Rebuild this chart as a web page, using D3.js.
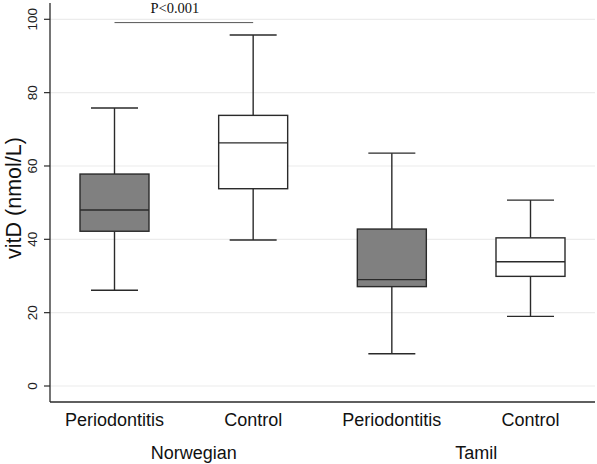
<!DOCTYPE html>
<html><head><meta charset="utf-8">
<script src="https://cdn.jsdelivr.net/npm/d3@7"></script>
<style>body{margin:0;background:#fff}svg{display:block}</style>
</head><body>
<script>
const categories = ["Periodontitis", "Control", "Periodontitis", "Control"];
const groups = ["Norwegian", "Norwegian", "Tamil", "Tamil"];
const groupLabels = ["Norwegian", "Tamil"];
const lowWhisker = [26.1, 39.8, 8.8, 19.0];
const q1 = [42.2, 53.8, 27.1, 29.9];
const median = [48.0, 66.3, 29.0, 33.9];
const q3 = [57.8, 73.8, 42.8, 40.4];
const highWhisker = [75.8, 95.7, 63.5, 50.7];
const fills = ["#808080", "#ffffff", "#808080", "#ffffff"];
const yTicks = [0, 20, 40, 60, 80, 100];
const pText = "P<0.001";
const pValueLevel = 99.1;
const pFrom = 0, pTo = 1;

(function () {
const W = 597, H = 464;
const svg = d3.select("body").append("svg").attr("width", W).attr("height", H);
const y = d3.scaleLinear().domain([0, 100]).range([386, 19.3]);
const x = d3.scalePoint().domain(d3.range(categories.length)).range([114.5, 530.5]);
const pl = 50, pr = 595, pt = 3, pb = 402;
const boxW = 69, capW = 47;
const ink = "#2a2a2a";

svg.append("g").selectAll("line").data(yTicks).join("line")
  .attr("x1", pl).attr("x2", pr).attr("y1", d => y(d)).attr("y2", d => y(d))
  .attr("stroke", "#ececec").attr("stroke-width", 1.2);

svg.append("line").attr("x1", pl).attr("x2", pl).attr("y1", pt).attr("y2", pb)
  .attr("stroke", ink).attr("stroke-width", 1.3);
svg.append("line").attr("x1", pl).attr("x2", pr).attr("y1", pb).attr("y2", pb)
  .attr("stroke", ink).attr("stroke-width", 1.3);

const yt = svg.append("g");
yt.selectAll("line").data(yTicks).join("line")
  .attr("x1", pl - 6).attr("x2", pl).attr("y1", d => y(d)).attr("y2", d => y(d))
  .attr("stroke", ink).attr("stroke-width", 1.2);
yt.selectAll("text").data(yTicks).join("text")
  .attr("transform", d => `translate(37,${y(d)}) rotate(-90)`)
  .attr("text-anchor", "middle")
  .attr("font-family", "Liberation Sans, Arial, sans-serif").attr("font-size", 13.5)
  .attr("fill", "#222").text(d => d);

svg.append("text").attr("transform", `translate(21,198) rotate(-90)`)
  .attr("text-anchor", "middle")
  .attr("font-family", "Liberation Sans, Arial, sans-serif").attr("font-size", 21.5)
  .attr("fill", "#111").text("vitD (nmol/L)");

const idx = d3.range(categories.length);
const g = svg.append("g");
g.selectAll("line.wl").data(idx).join("line").attr("class", "wl")
  .attr("x1", i => x(i)).attr("x2", i => x(i))
  .attr("y1", i => y(lowWhisker[i])).attr("y2", i => y(q1[i]))
  .attr("stroke", ink).attr("stroke-width", 1.4);
g.selectAll("line.wh").data(idx).join("line").attr("class", "wh")
  .attr("x1", i => x(i)).attr("x2", i => x(i))
  .attr("y1", i => y(highWhisker[i])).attr("y2", i => y(q3[i]))
  .attr("stroke", ink).attr("stroke-width", 1.4);
g.selectAll("line.cl").data(idx).join("line").attr("class", "cl")
  .attr("x1", i => x(i) - capW / 2).attr("x2", i => x(i) + capW / 2)
  .attr("y1", i => y(lowWhisker[i])).attr("y2", i => y(lowWhisker[i]))
  .attr("stroke", ink).attr("stroke-width", 1.4);
g.selectAll("line.ch").data(idx).join("line").attr("class", "ch")
  .attr("x1", i => x(i) - capW / 2).attr("x2", i => x(i) + capW / 2)
  .attr("y1", i => y(highWhisker[i])).attr("y2", i => y(highWhisker[i]))
  .attr("stroke", ink).attr("stroke-width", 1.4);
g.selectAll("rect").data(idx).join("rect")
  .attr("x", i => x(i) - boxW / 2).attr("width", boxW)
  .attr("y", i => y(q3[i])).attr("height", i => y(q1[i]) - y(q3[i]))
  .attr("fill", i => fills[i]).attr("stroke", ink).attr("stroke-width", 1.4);
g.selectAll("line.md").data(idx).join("line").attr("class", "md")
  .attr("x1", i => x(i) - boxW / 2).attr("x2", i => x(i) + boxW / 2)
  .attr("y1", i => y(median[i])).attr("y2", i => y(median[i]))
  .attr("stroke", ink).attr("stroke-width", 1.4);

svg.append("line").attr("x1", x(pFrom)).attr("x2", x(pTo))
  .attr("y1", y(pValueLevel)).attr("y2", y(pValueLevel))
  .attr("stroke", "#555").attr("stroke-width", 1);
svg.append("text").attr("x", (x(pFrom) + x(pTo)) / 2 - 9).attr("y", 13)
  .attr("text-anchor", "middle")
  .attr("font-family", "Liberation Serif, Times New Roman, serif").attr("font-size", 14.5)
  .attr("fill", "#111").text(pText);

svg.append("g").selectAll("text").data(idx).join("text")
  .attr("x", i => x(i)).attr("y", 426).attr("text-anchor", "middle")
  .attr("font-family", "Liberation Sans, Arial, sans-serif").attr("font-size", 18)
  .attr("fill", "#111").text(i => categories[i]);
svg.append("g").selectAll("text").data(groupLabels).join("text")
  .attr("x", (d, k) => {
    const ids = idx.filter(i => groups[i] === d);
    return d3.mean(ids, i => x(i)) + (k === 0 ? 10 : 15);
  })
  .attr("y", 459).attr("text-anchor", "middle")
  .attr("font-family", "Liberation Sans, Arial, sans-serif").attr("font-size", 18)
  .attr("fill", "#111").text(d => d);
})();
</script>
</body></html>
